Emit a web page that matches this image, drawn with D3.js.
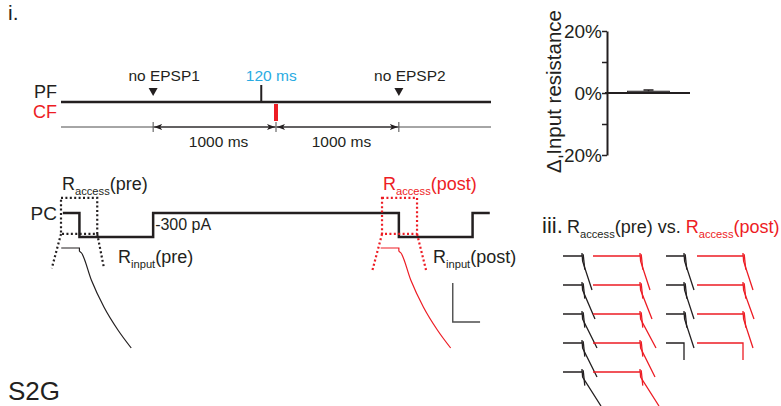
<!DOCTYPE html>
<html lang="en">
<head>
<meta charset="UTF-8">
<title>S2G</title>
<style>
body { margin: 0; background: #fff; }
svg { display: block; font-family: "Liberation Sans", Arial, Helvetica, sans-serif; }
</style>
</head>
<body>
<script src="https://cdnjs.cloudflare.com/ajax/libs/d3/7.8.5/d3.min.js"></script>
<script>
var width = 781, height = 406;
var black = "#231f20", red = "#ed1c24", blue = "#29abe2", grey = "#4d4d4d";

// protocol, ms relative to the CF stimulus
var pfTimes = [-120];
var cfTimes = [0];
var probeTimes = [-1000, 1000];
var probeLabels = ["no EPSP1", "no EPSP2"];
var intervalTicks = [-1000, 0, 1000];
var intervalLabels = ["1000 ms", "1000 ms"];

// PC holding current (ms, pA)
var pcTimes   = [-1735, -1600, -1600, -1000, -1000, 1000, 1000, 1600, 1600, 1740];
var pcCurrent = [0, 0, -300, -300, 0, 0, -300, -300, 0, 0];

// dotted zoom boxes round the step onsets (ms, pA)
var boxNames = ["pre", "post"];
var boxTimes = [[-1750, -1455], [863, 1148]];
var boxCurrent = [190, -262];
var fanTimes = [[-1825, -1400], [781, 1221]];
var fanCurrent = [[-690, -690], [-737, -712]];

// enlarged access transient (ms, normalised current)
var accessT = [0, 2.6, 2.6, 2.9, 4.3, 6.1, 8.1, 10];
var accessI = [0, 0, -0.03, -0.05, -0.32, -0.59, -0.82, -1.0];
var scaleBarT = 3.9, scaleBarI = 0.39;

// panel ii: change in input resistance (%)
var barNames = ["post vs pre"];
var barMean = [0.6];
var barSem = [0.4];
var yTicks = [-20, -10, 0, 10, 20];
var yTickLabels = {"-20": "-20%", "0": "0%", "20": "20%"};

// panel iii: example access transients, decay run (ms) of each row
var preLeft  = [5, 6.5, 7.5, 7.5, 9.5];
var postLeft = [5, 6, 8, 7.5, 9.5];
var preRight  = [5, 5, 5, 0];
var postRight = [5, 5.5, 5, 0];

var svg = d3.select("body").append("svg").attr("width", width).attr("height", height);

function richText(x, y, size, parts, anchor) {
    var t = svg.append("text").attr("x", x).attr("y", y)
        .style("font-size", size + "px").attr("text-anchor", anchor || "start");
    var prevSub = false;
    parts.forEach(function(p) {
        var dy = p.sub ? Math.round(size * 0.28) : (prevSub ? -Math.round(size * 0.28) : 0);
        t.append("tspan").text(p.s).attr("fill", p.c || black).attr("dy", dy)
            .style("font-size", (p.sub ? size * 0.62 : size) + "px");
        prevSub = !!p.sub;
    });
    return t;
}

// ---------- panel i ----------
richText(8, 20, 21, [{s: "i."}]);
richText(8, 400, 26, [{s: "S2G"}]);

var tx = d3.scaleLinear().domain([-1750, 1750]).range([61, 491]);
var pfY = 102, timelineY = 127;

richText(57, 98, 18, [{s: "PF"}], "end");
richText(57, 118, 18, [{s: "CF", c: red}], "end");

svg.append("line").attr("x1", tx(-1750)).attr("x2", tx(1750))
    .attr("y1", pfY).attr("y2", pfY).attr("stroke", black).attr("stroke-width", 2.5);

svg.selectAll(".pf").data(pfTimes).enter().append("line")
    .attr("x1", tx).attr("x2", tx).attr("y1", pfY - 17).attr("y2", pfY)
    .attr("stroke", black).attr("stroke-width", 2);
svg.selectAll(".pfLab").data(pfTimes).enter().append("text")
    .attr("x", function(d) { return tx(d) + 10; }).attr("y", 81)
    .attr("text-anchor", "middle").attr("fill", blue).style("font-size", "15.5px")
    .text(function(d) { return -d + " ms"; });

svg.selectAll(".cf").data(cfTimes).enter().append("line")
    .attr("x1", tx).attr("x2", tx).attr("y1", pfY + 2).attr("y2", pfY + 19)
    .attr("stroke", red).attr("stroke-width", 4);

svg.selectAll(".probe").data(probeTimes).enter().append("path")
    .attr("d", function(d) { var x = tx(d); return "M" + (x - 4.5) + ",88L" + (x + 4.5) + ",88L" + x + ",96Z"; })
    .attr("fill", black);
svg.selectAll(".probeLab").data(probeTimes).enter().append("text")
    .attr("x", function(d) { return tx(d) + 11; }).attr("y", 81)
    .attr("text-anchor", "middle").attr("fill", black).style("font-size", "15.5px")
    .text(function(d, i) { return probeLabels[i]; });

// timeline with interval arrows
var defs = svg.append("defs");
defs.append("marker").attr("id", "arr").attr("viewBox", "0 0 8 6")
    .attr("refX", 8).attr("refY", 3).attr("markerWidth", 8).attr("markerHeight", 6)
    .attr("markerUnits", "userSpaceOnUse").attr("orient", "auto-start-reverse")
    .append("path").attr("d", "M0,0L8,3L0,6L2,3Z").attr("fill", black);

svg.append("line").attr("x1", tx(-1750)).attr("x2", tx(1750))
    .attr("y1", timelineY).attr("y2", timelineY).attr("stroke", grey).attr("stroke-width", 1);
svg.selectAll(".itick").data(intervalTicks).enter().append("line")
    .attr("x1", tx).attr("x2", tx).attr("y1", timelineY - 5).attr("y2", timelineY + 5)
    .attr("stroke", grey).attr("stroke-width", 1);
d3.pairs(intervalTicks).forEach(function(p, i) {
    svg.append("line").attr("x1", tx(p[0]) + 1).attr("x2", tx(p[1]) - 1)
        .attr("y1", timelineY).attr("y2", timelineY).attr("stroke", black).attr("stroke-width", 1)
        .attr("marker-start", "url(#arr)").attr("marker-end", "url(#arr)");
    svg.append("text").attr("x", (tx(p[0]) + tx(p[1])) / 2 + 4).attr("y", 147)
        .attr("text-anchor", "middle").style("font-size", "15.5px").attr("fill", black)
        .text(intervalLabels[i]);
});

// ---------- PC current protocol ----------
var ic = d3.scaleLinear().domain([0, -300]).range([213, 237]);
richText(57, 220, 19, [{s: "PC"}], "end");

svg.append("path").datum(d3.zip(pcTimes, pcCurrent))
    .attr("d", d3.line().x(function(d) { return tx(d[0]); }).y(function(d) { return ic(d[1]); }))
    .attr("fill", "none").attr("stroke", black).attr("stroke-width", 2.5);
svg.append("text").attr("x", tx(-1000) + 2).attr("y", 230).style("font-size", "16px")
    .attr("fill", black).text("-300 pA");

var boxColors = [black, red];
boxNames.forEach(function(name, k) {
    var c = boxColors[k], t = boxTimes[k];
    var g = svg.append("g").attr("fill", "none").attr("stroke", c)
        .attr("stroke-width", 2.2).attr("stroke-dasharray", "2,2.4");
    g.append("rect").attr("x", tx(t[0])).attr("y", ic(boxCurrent[0]))
        .attr("width", tx(t[1]) - tx(t[0])).attr("height", ic(boxCurrent[1]) - ic(boxCurrent[0]));
    [0, 1].forEach(function(j) {
        g.append("line").attr("x1", tx(t[j])).attr("y1", ic(boxCurrent[1]))
            .attr("x2", tx(fanTimes[k][j])).attr("y2", ic(fanCurrent[k][j]));
    });
});

// enlarged transients
var ax = d3.scaleLinear().domain([0, 10]).range([0, 70]);
var ay = d3.scaleLinear().domain([0, -1]).range([0, 100]);
var stepOn = [-1600, 1000];
stepOn.forEach(function(s, k) {
    var ox = tx(s) - ax(2.6), oy = ic(-300) + 11;
    svg.append("path").datum(d3.zip(accessT, accessI))
        .attr("d", d3.line().x(function(d) { return ox + ax(d[0]); }).y(function(d) { return oy + ay(d[1]); })
            .curve(d3.curveMonotoneX))
        .attr("fill", "none").attr("stroke", boxColors[k]).attr("stroke-width", 1.2);
});
var sbx = tx(1000) - ax(2.6) + ax(10.3), sby = ic(-300) + 11 + ay(-0.74);
svg.append("path")
    .attr("d", "M" + sbx + "," + (sby - ay(-scaleBarI)) + "V" + sby + "H" + (sbx + ax(scaleBarT)))
    .attr("fill", "none").attr("stroke", grey).attr("stroke-width", 1.4);

richText(62, 190, 18, [{s: "R"}, {s: "access", sub: true}, {s: "(pre)"}]);
richText(118, 263, 18, [{s: "R"}, {s: "input", sub: true}, {s: "(pre)"}]);
richText(383, 190, 18, [{s: "R", c: red}, {s: "access", sub: true, c: red}, {s: "(post)", c: red}]);
richText(433, 263, 18, [{s: "R"}, {s: "input", sub: true}, {s: "(post)"}]);

// ---------- panel ii: bar ----------
var by = d3.scaleLinear().domain([-20, 20]).range([155, 31]);
var bx = d3.scaleBand().domain(barNames).range([607, 690]).paddingInner(0).paddingOuter(0.49);
var yAxis = svg.append("g").attr("transform", "translate(607,0)")
    .call(d3.axisLeft(by).tickValues(yTicks).tickSize(5).tickSizeOuter(0)
        .tickFormat(function(d) { return yTickLabels[d] || ""; }));
yAxis.select(".domain").attr("stroke", black).attr("stroke-width", 2);
yAxis.selectAll(".tick line").attr("stroke", black).attr("stroke-width", 1.5);
yAxis.selectAll(".tick text").attr("fill", black).attr("x", -5).attr("dy", "0.36em")
    .style("font-size", "19px").style("font-family", "inherit");

svg.selectAll(".bar").data(barMean).enter().append("rect")
    .attr("x", function(d, i) { return bx(barNames[i]); }).attr("width", bx.bandwidth())
    .attr("y", function(d) { return by(d); }).attr("height", function(d) { return by(0) - by(d); })
    .attr("fill", "#666").attr("stroke", black).attr("stroke-width", 0.8);
svg.selectAll(".err").data(barMean).enter().append("path")
    .attr("d", function(d, i) {
        var cx = bx(barNames[i]) + bx.bandwidth() / 2, yt = by(d + barSem[i]);
        return "M" + cx + "," + by(d) + "V" + yt + "M" + (cx - 5) + "," + yt + "H" + (cx + 5);
    })
    .attr("stroke", black).attr("stroke-width", 1.5).attr("fill", "none");
svg.append("line").attr("x1", 605).attr("x2", 690).attr("y1", by(0)).attr("y2", by(0))
    .attr("stroke", black).attr("stroke-width", 2);
svg.append("text").attr("transform", "translate(561,91.5) rotate(-90)")
    .attr("text-anchor", "middle").style("font-size", "20.5px").attr("fill", black)
    .text("\u0394 Input resistance");

// ---------- panel iii ----------
richText(542, 233, 22, [{s: "iii."}]);
richText(567, 233, 18, [{s: "R"}, {s: "access", sub: true}, {s: "(pre) vs. "},
    {s: "R", c: red}, {s: "access", sub: true, c: red}, {s: "(post)", c: red}]);

var rowY = d3.scaleLinear().domain([0, 4]).range([256, 372]);
var trT = d3.scaleLinear().domain([0, 10]).range([0, 20]);
var trV = d3.scaleLinear().domain([0, -1]).range([0, 34]);
var traceLine = d3.line().x(function(d) { return trT(d[0]); }).y(function(d) { return trV(d[1]); });

function drawTraces(runs, x0, base, color) {
    runs.forEach(function(run, i) {
        var g = svg.append("g").attr("transform", "translate(" + x0 + "," + rowY(i) + ")")
            .attr("fill", "none").attr("stroke", color).attr("stroke-width", 1.3);
        var pts;
        if (run > 0) {
            pts = [[0, 0], [base, 0], [base, 0.09], [base + 0.3, -0.15], [base + run, -1]];
            g.append("path").attr("d", traceLine([[base + 0.6, 0.05], [base + 1.4, -0.4]]));
        } else {
            pts = [[0, 0], [base, 0], [base, -0.5]];
        }
        g.append("path").attr("d", traceLine(pts));
    });
}
drawTraces(preLeft, 563, 9.5, black);
drawTraces(postLeft, 593, 23.5, red);
drawTraces(preRight, 666, 9, black);
drawTraces(postRight, 697, 23, red);
</script>
</body>
</html>
